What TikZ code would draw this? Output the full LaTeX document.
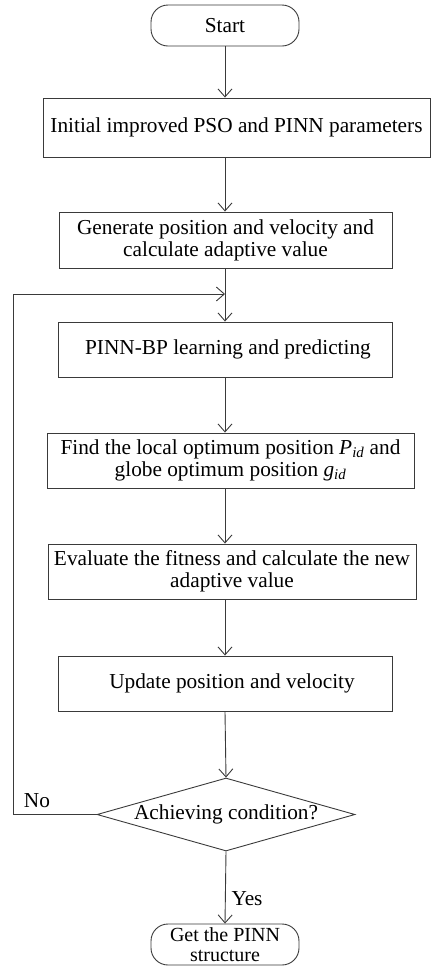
\documentclass[tikz,border=0pt]{standalone}
\usepackage{fontspec}
\setmainfont{Liberation Serif}
\usetikzlibrary{arrows.meta,shapes.geometric}
\definecolor{linec}{HTML}{3A3A3A}
\tikzset{
  box/.style={draw=linec, line width=0.9pt, rectangle, inner sep=0pt, align=center, font=\fontsize{21.3}{22}\selectfont},
  term/.style={box, rounded corners=17pt},
  decision/.style={draw=linec, line width=0.9pt, diamond, aspect=3.53, inner sep=0pt, minimum width=258pt, minimum height=73pt, font=\fontsize{21.3}{22}\selectfont},
  lbl/.style={inner sep=0pt, font=\fontsize{21.3}{22}\selectfont},
  conn/.style={draw=linec, line width=0.9pt},
  arr/.style={conn, -{Straight Barb[length=8pt,width=14pt,line width=0.9pt]}}
}
\begin{document}
\begin{tikzpicture}[x=1pt,y=-1pt]
\useasboundingbox (0,0) rectangle (431,967);
\node[term, minimum width=148pt, minimum height=41pt] (start) at (225,25.5) {Start};
\node[box, minimum width=387pt, minimum height=59pt] (b1) at (236.5,127.5) {Initial improved PSO and PINN parameters};
\node[box, minimum width=333pt, minimum height=56pt] (b2) at (225.5,240) {Generate position and velocity and\\calculate adaptive value};
\node[box, minimum width=334pt, minimum height=55pt] (b3) at (225,349.5) {\hspace{6pt}PINN-BP learning and predicting};
\node[box, minimum width=367pt, minimum height=55pt] (b4) at (230.5,460.5) {Find the local optimum position \textit{P\textsubscript{id}} and\\globe optimum position \textit{g\textsubscript{id}}};
\node[box, minimum width=368pt, minimum height=55pt] (b5) at (232,571.5) {Evaluate the fitness and calculate the new\\adaptive value};
\node[box, minimum width=334pt, minimum height=55pt] (b6) at (225,683.5) {\hspace{14pt}Update position and velocity};
\node[decision] (dia) at (226,814.5) {Achieving condition?};
\node[term, minimum width=148pt, minimum height=41pt, font=\fontsize{20}{19.5}\selectfont] (end) at (225,944.5) {Get the PINN\\structure};
\node[lbl] (no) at (37,801) {No};
\node[lbl] (yes) at (247,899) {Yes};
\coordinate (join) at (225,294);
\coordinate (lx) at (13,0);
\draw[arr] (start.south) -- (start.south |- b1.north);
\draw[arr] (start.south |- b1.south) -- (start.south |- b2.north);
\draw[arr] (start.south |- b2.south) -- (start.south |- b3.north);
\draw[arr] (start.south |- b3.south) -- (start.south |- b4.north);
\draw[arr] (start.south |- b4.south) -- (start.south |- b5.north);
\draw[arr] (start.south |- b5.south) -- (start.south |- b6.north);
\draw[arr] (start.south |- b6.south) -- (dia.north);
\draw[arr] (dia.south) -- (end.north);
\draw[arr] (dia.west) -- (dia.west -| lx) -- (lx |- join) -- (join);
\end{tikzpicture}
\end{document}
